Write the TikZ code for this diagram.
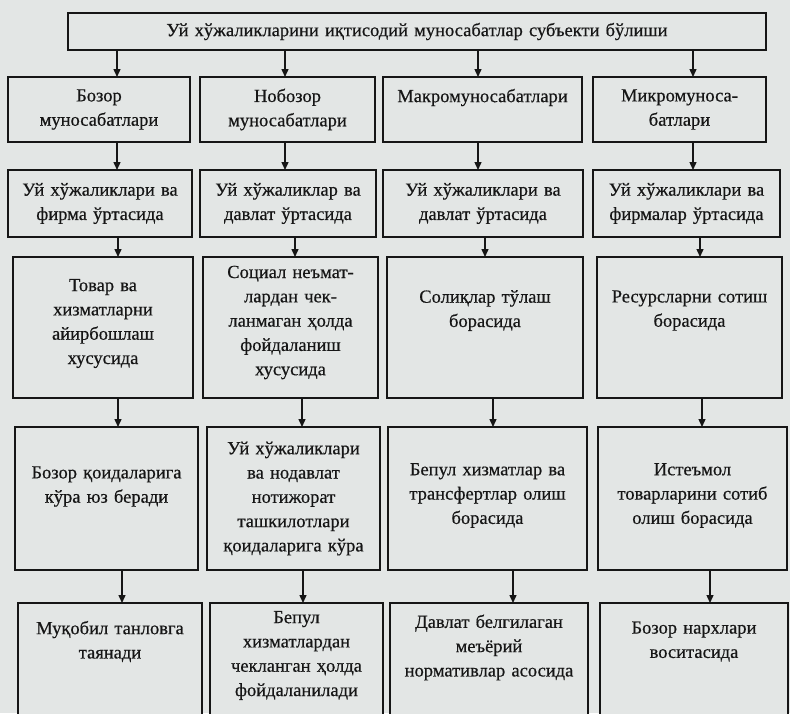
\documentclass[tikz,border=0pt]{standalone}
\usepackage{fontspec}
\setmainfont{Liberation Serif}[FakeBold=0.5]
\usetikzlibrary{arrows.meta}
\definecolor{paper}{RGB}{227,230,229}
\definecolor{ink}{RGB}{22,22,22}
\tikzset{
  box/.style={draw=ink, line width=1.6pt, fill=paper, inner sep=0pt, outer sep=0pt,
    align=center, text=ink, font=\fontsize{18.5}{24.3}\selectfont},
  arr/.style={draw=ink, line width=1.4pt, -{Triangle[length=8pt,width=7pt]}}
}
\newcommand\pad[1]{\par\vspace{#1pt}}
\newcommand\mkbox[6]{%
  \pgfmathsetmacro\bxcx{(#2+#3)/2}\pgfmathsetmacro\bxcy{(#4+#5)/2}%
  \pgfmathsetmacro\bxw{#3-#2}\pgfmathsetmacro\bxh{#5-#4}\pgfmathsetmacro\bxt{#3-#2-6}%
  \node[box, minimum width=\bxw pt, minimum height=\bxh pt, text width=\bxt pt] (#1) at (\bxcx,\bxcy) {#6};}
\begin{document}
\begin{tikzpicture}[x=1pt,y=-1pt]
\clip (0,0) rectangle (790,713);
\fill[paper] (0,0) rectangle (790,713);
% top
\mkbox{top}{68}{766}{13}{50}{Уй хўжаликларини иқтисодий муносабатлар субъекти бўлиши}
% row 1
\mkbox{b11}{8}{190}{77}{142}{Бозор\\муносабатлари}
\mkbox{b12}{200}{375}{77}{142}{Нобозор\\муносабатлари}
\mkbox{b13}{383}{582}{77}{142}{Макромуносабатлари\pad{24}}
\mkbox{b14}{593}{766}{77}{142}{Микромуноса-\\батлари}
% row 2
\mkbox{b21}{8}{192}{170}{237}{Уй хўжаликлари ва\\фирма ўртасида}
\mkbox{b22}{200}{376}{170}{237}{Уй хўжаликлар ва\\давлат ўртасида}
\mkbox{b23}{383}{583}{170}{237}{Уй хўжаликлари ва\\давлат ўртасида}
\mkbox{b24}{593}{780}{170}{237}{Уй хўжаликлари ва\\фирмалар ўртасида}
% row 3
\mkbox{b31}{13}{193}{257}{398}{Товар ва\\хизматларни\\айирбошлаш\\хусусида\pad{8}}
\mkbox{b32}{203}{378}{257}{398}{Социал неъмат-\\лардан чек-\\ланмаган ҳолда\\фойдаланиш\\хусусида\pad{10}}
\mkbox{b33}{387}{583}{257}{398}{Солиқлар тўлаш\\борасида\pad{34}}
\mkbox{b34}{597}{782}{257}{398}{Ресурсларни сотиш\\борасида\pad{34}}
% row 4
\mkbox{b41}{15}{198}{427}{570}{Бозор қоидаларига\\кўра юз беради\pad{24}}
\mkbox{b42}{207}{380}{427}{570}{Уй хўжаликлари\\ва нодавлат\\нотижорат\\ташкилотлари\\қоидаларига кўра}
\mkbox{b43}{388}{587}{427}{570}{Бепул хизматлар ва\\трансфертлар олиш\\борасида\pad{6}}
\mkbox{b44}{598}{787}{427}{570}{Истеъмол\\товарларини сотиб\\олиш борасида\pad{6}}
% row 5
\mkbox{b51}{18}{202}{603}{730}{Муқобил танловга\\таянади\pad{50}}
\mkbox{b52}{210}{383}{603}{730}{Бепул\\хизматлардан\\чекланган ҳолда\\фойдаланилади\pad{22}}
\mkbox{b53}{390}{588}{603}{730}{Давлат белгилаган\\меъёрий\\нормативлар асосида\pad{38}}
\mkbox{b54}{600}{788}{603}{730}{Бозор нархлари\\воситасида\pad{50}}
% arrow columns
\coordinate (a1) at (117,0); \coordinate (a2) at (285,0); \coordinate (a3) at (478,0); \coordinate (a4) at (693,0);
\coordinate (c1) at (118,0); \coordinate (c2) at (295,0); \coordinate (c3) at (485,0); \coordinate (c4) at (700,0);
\coordinate (d1) at (118,0); \coordinate (d2) at (302,0); \coordinate (d3) at (493,0); \coordinate (d4) at (702,0);
\coordinate (e1) at (122,0); \coordinate (e2) at (303,0); \coordinate (e3) at (513,0); \coordinate (e4) at (710,0);
\draw[arr] (top.south -| a1) -- (b11.north -| a1);
\draw[arr] (top.south -| a2) -- (b12.north -| a2);
\draw[arr] (top.south -| a3) -- (b13.north -| a3);
\draw[arr] (top.south -| a4) -- (b14.north -| a4);
\draw[arr] (b11.south -| a1) -- (b21.north -| a1);
\draw[arr] (b12.south -| a2) -- (b22.north -| a2);
\draw[arr] (b13.south -| a3) -- (b23.north -| a3);
\draw[arr] (b14.south -| a4) -- (b24.north -| a4);
\draw[arr] (b21.south -| c1) -- (b31.north -| c1);
\draw[arr] (b22.south -| c2) -- (b32.north -| c2);
\draw[arr] (b23.south -| c3) -- (b33.north -| c3);
\draw[arr] (b24.south -| c4) -- (b34.north -| c4);
\draw[arr] (b31.south -| d1) -- (b41.north -| d1);
\draw[arr] (b32.south -| d2) -- (b42.north -| d2);
\draw[arr] (b33.south -| d3) -- (b43.north -| d3);
\draw[arr] (b34.south -| d4) -- (b44.north -| d4);
\draw[arr] (b41.south -| e1) -- (b51.north -| e1);
\draw[arr] (b42.south -| e2) -- (b52.north -| e2);
\draw[arr] (b43.south -| e3) -- (b53.north -| e3);
\draw[arr] (b44.south -| e4) -- (b54.north -| e4);
\end{tikzpicture}
\end{document}
